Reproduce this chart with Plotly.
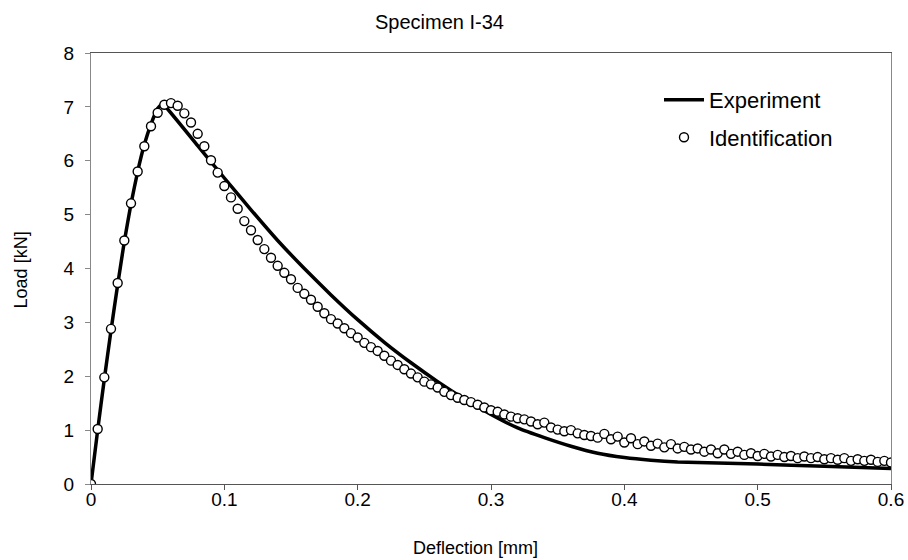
import plotly.graph_objects as go

# Experiment curve
exp_x = [0, 0.005, 0.01, 0.015, 0.02, 0.025, 0.03, 0.035, 0.04, 0.045, 0.05, 0.053, 0.056,
         0.08, 0.1, 0.12, 0.14, 0.16, 0.18, 0.2, 0.22, 0.24, 0.26, 0.28, 0.3,
         0.32, 0.34, 0.36, 0.38, 0.4, 0.42, 0.44, 0.47, 0.5, 0.55, 0.6]
exp_y = [0, 1.0, 1.95, 2.85, 3.7, 4.5, 5.2, 5.8, 6.3, 6.68, 6.97, 7.05, 7.0,
         6.28, 5.68, 5.09, 4.52, 4.00, 3.51, 3.05, 2.63, 2.25, 1.90, 1.58, 1.29,
         1.04, 0.86, 0.70, 0.57, 0.49, 0.44, 0.41, 0.39, 0.37, 0.33, 0.29]

# Identification points
id_x = [0, 0.005, 0.01, 0.015, 0.02, 0.025, 0.03, 0.035, 0.04, 0.045,
        0.05, 0.055, 0.06, 0.065, 0.07, 0.075, 0.08, 0.085, 0.09, 0.095,
        0.1, 0.105, 0.11, 0.115, 0.12, 0.125, 0.13, 0.135, 0.14, 0.145,
        0.15, 0.155, 0.16, 0.165, 0.17, 0.175, 0.18, 0.185, 0.19, 0.195,
        0.2, 0.205, 0.21, 0.215, 0.22, 0.225, 0.23, 0.235, 0.24, 0.245,
        0.25, 0.255, 0.26, 0.265, 0.27, 0.275, 0.28, 0.285, 0.29, 0.295,
        0.3, 0.305, 0.31, 0.315, 0.32, 0.325, 0.33, 0.335, 0.34, 0.345,
        0.35, 0.355, 0.36, 0.365, 0.37, 0.375, 0.38, 0.385, 0.39, 0.395,
        0.4, 0.405, 0.41, 0.415, 0.42, 0.425, 0.43, 0.435, 0.44, 0.445,
        0.45, 0.455, 0.46, 0.465, 0.47, 0.475, 0.48, 0.485, 0.49, 0.495,
        0.5, 0.505, 0.51, 0.515, 0.52, 0.525, 0.53, 0.535, 0.54, 0.545,
        0.55, 0.555, 0.56, 0.565, 0.57, 0.575, 0.58, 0.585, 0.59, 0.595, 0.6]
id_y = [0, 1.02, 1.98, 2.88, 3.73, 4.52, 5.21, 5.80, 6.27, 6.64,
        6.89, 7.04, 7.07, 7.02, 6.88, 6.71, 6.50, 6.27, 6.01, 5.78,
        5.53, 5.32, 5.11, 4.88, 4.71, 4.53, 4.36, 4.20, 4.05, 3.92,
        3.80, 3.64, 3.53, 3.42, 3.29, 3.17, 3.06, 2.98, 2.89, 2.80,
        2.72, 2.62, 2.54, 2.47, 2.38, 2.29, 2.21, 2.13, 2.05, 1.98,
        1.90, 1.85, 1.79, 1.71, 1.65, 1.60, 1.56, 1.52, 1.47, 1.42,
        1.37, 1.34, 1.29, 1.25, 1.22, 1.20, 1.16, 1.11, 1.14, 1.05,
        1.01, 0.98, 1.00, 0.94, 0.91, 0.89, 0.86, 0.93, 0.83, 0.88,
        0.77, 0.85, 0.74, 0.79, 0.71, 0.75, 0.68, 0.74, 0.66, 0.69,
        0.64, 0.66, 0.60, 0.64, 0.57, 0.64, 0.56, 0.60, 0.54, 0.57,
        0.52, 0.56, 0.51, 0.54, 0.50, 0.52, 0.48, 0.51, 0.48, 0.50,
        0.46, 0.48, 0.45, 0.48, 0.43, 0.46, 0.43, 0.45, 0.41, 0.43, 0.40]

x_ticks = [0, 0.1, 0.2, 0.3, 0.4, 0.5, 0.6]
x_tick_labels = ["0", "0.1", "0.2", "0.3", "0.4", "0.5", "0.6"]
y_ticks = [0, 1, 2, 3, 4, 5, 6, 7, 8]

FONT = "Liberation Sans, Arial, sans-serif"

fig = go.Figure()
fig.add_trace(go.Scatter(
    x=exp_x, y=exp_y, mode="lines", name="Experiment",
    line=dict(color="black", width=3.5, shape="spline", smoothing=0.4),
    legendgroup="a",
))
fig.add_trace(go.Scatter(
    x=id_x, y=id_y, mode="markers", name="Identification",
    marker=dict(symbol="circle", size=9, color="white",
                line=dict(color="black", width=1.4)),
    legendgroup="b",
))

fig.update_layout(
    width=908, height=560,
    margin=dict(l=91, r=17, t=53, b=76, autoexpand=False),
    plot_bgcolor="white", paper_bgcolor="white",
    font=dict(family=FONT, color="black", size=19),
    showlegend=True,
    legend=dict(x=0.71, y=0.94, xanchor="left", yanchor="top",
                bgcolor="rgba(0,0,0,0)", font=dict(size=22),
                traceorder="grouped", tracegroupgap=6, itemwidth=40),
    annotations=[
        dict(text="Specimen I-34", x=0.436, y=1 + (53 - 22) / 431,
             xref="paper", yref="paper",
             showarrow=False, font=dict(size=20), xanchor="center", yanchor="middle"),
        dict(text="Deflection [mm]", x=0.48, y=-0.148, xref="paper", yref="paper",
             showarrow=False, font=dict(size=18), xanchor="center", yanchor="middle"),
        dict(text="Load [kN]", x=-0.087, y=0.4965, xref="paper", yref="paper",
             showarrow=False, font=dict(size=18), textangle=-90,
             xanchor="center", yanchor="middle"),
    ],
)

fig.update_xaxes(
    range=[0, 0.6], tickvals=x_ticks, ticktext=x_tick_labels,
    showgrid=False, zeroline=False, showline=True, linecolor="#555", linewidth=1,
    mirror=True, ticks="outside", ticklen=5, tickcolor="#555",
    tickfont=dict(size=19), ticklabelstandoff=-7,
)
fig.update_yaxes(
    range=[0, 8], tickvals=y_ticks,
    showgrid=False, zeroline=False, showline=True, linecolor="#888", linewidth=1,
    mirror=True, ticks="outside", ticklen=5, tickcolor="#888",
    tickfont=dict(size=19), ticklabelstandoff=7,
)

fig.write_html("out.html", config={"displayModeBar": False},
               post_script="document.body.style.margin='0';")
